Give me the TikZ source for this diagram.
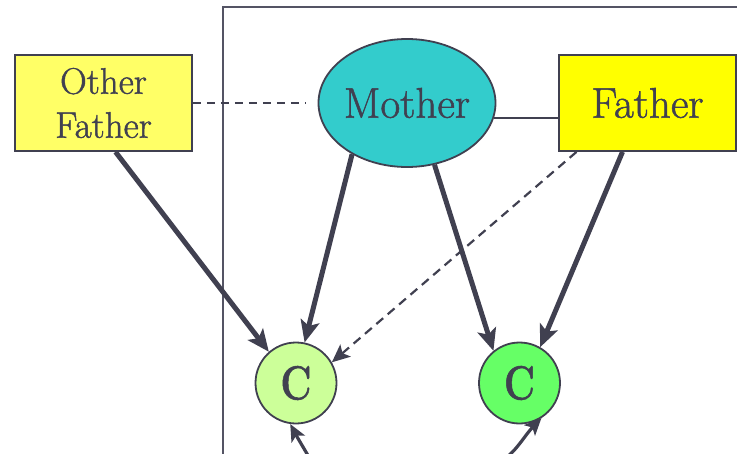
\documentclass[tikz,border=0pt]{standalone}
\usepackage{graphicx}
\usepackage{fontspec}
\newfontfamily\labelfont{Latin Modern Roman}[FakeBold=1.2]
\usetikzlibrary{arrows.meta,shapes.geometric}

\definecolor{inkGray}{RGB}{64,64,80}
\definecolor{frameGray}{RGB}{84,84,100}
\definecolor{otherYellow}{RGB}{255,255,102}
\definecolor{fatherYellow}{RGB}{255,255,0}
\definecolor{motherTeal}{RGB}{51,204,204}
\definecolor{childLight}{RGB}{204,255,153}
\definecolor{childGreen}{RGB}{102,255,102}

\tikzset{every picture/.style={line width=2pt, color=inkGray, x=1pt, y=1pt},
        parentBox/.style={rectangle, draw=inkGray, line width=1.8pt, minimum width=177pt, minimum height=96pt, align=center, inner sep=0pt},
        parentOval/.style={ellipse, draw=inkGray, line width=1.8pt, minimum width=177pt, minimum height=128pt, inner xsep=-15pt, inner ysep=0pt},
        childDot/.style={circle, draw=inkGray, line width=1.8pt, minimum size=81pt, inner sep=0pt},
        geneArrow/.style={-{Stealth[length=22pt,width=19pt,inset=5pt]}, line width=5pt},
        maybeArrow/.style={-{Stealth[length=18pt,width=16pt,inset=4pt]}, line width=2.2pt, dash pattern=on 9pt off 6pt},
        loopArrow/.style={-{Stealth[length=17pt,width=15pt,inset=4pt]}, line width=3.2pt}}

\begin{document}
\begin{tikzpicture}

\useasboundingbox (0,0) rectangle (737,-453);
\clip (0,0) rectangle (737,-453);

% draw frame
\draw[frameGray, line width=2.2pt] (223,-470) -- (223,-7) -- (760,-7);

% draw parents
\node[parentBox, fill=otherYellow, font=\labelfont\fontsize{37}{44}\selectfont] (other) at (103.5,-103) {Other\\Father};
\node[parentOval, fill=motherTeal, font=\labelfont\fontsize{43}{48}\selectfont] (mother) at (407,-103) {Mother};
\node[parentBox, fill=fatherYellow, font=\labelfont\fontsize{43}{48}\selectfont] (father) at (647.5,-103) {Father};

% draw children
\foreach \i/\x/\col in {1/296/childLight, 2/519.5/childGreen} {
    \node[childDot, fill=\col, font=\labelfont\fontsize{48}{52}\selectfont\bfseries] (c\i) at (\x,-383) {\scalebox{0.8}[1]{C}};
}

% draw partner lines
\draw[dash pattern=on 8pt off 6pt] (other.east) -- ([xshift=-12pt]mother.west);
\draw (mother.-10) -- (mother.-10 -| father.west);

% draw inheritance arrows
\draw[geneArrow] ([xshift=12pt]other.south) -- (c1.131);
\draw[geneArrow] (mother.223) -- (c1.78);
\draw[maybeArrow] ([xshift=-71pt]father.south) -- (c1.30);
\draw[geneArrow] (mother.294) -- (c2.129);
\draw[geneArrow] ([xshift=-25pt]father.south) -- (c2.60);

% draw loops coming in from below
\coordinate (loopA) at (316,-470);
\coordinate (loopB) at (492,-468);
\draw[loopArrow] (loopA) to[out=118,in=-62] (c1.262);
\draw[loopArrow] (loopB) to[out=30,in=-134] (c2.302);

\end{tikzpicture}
\end{document}
